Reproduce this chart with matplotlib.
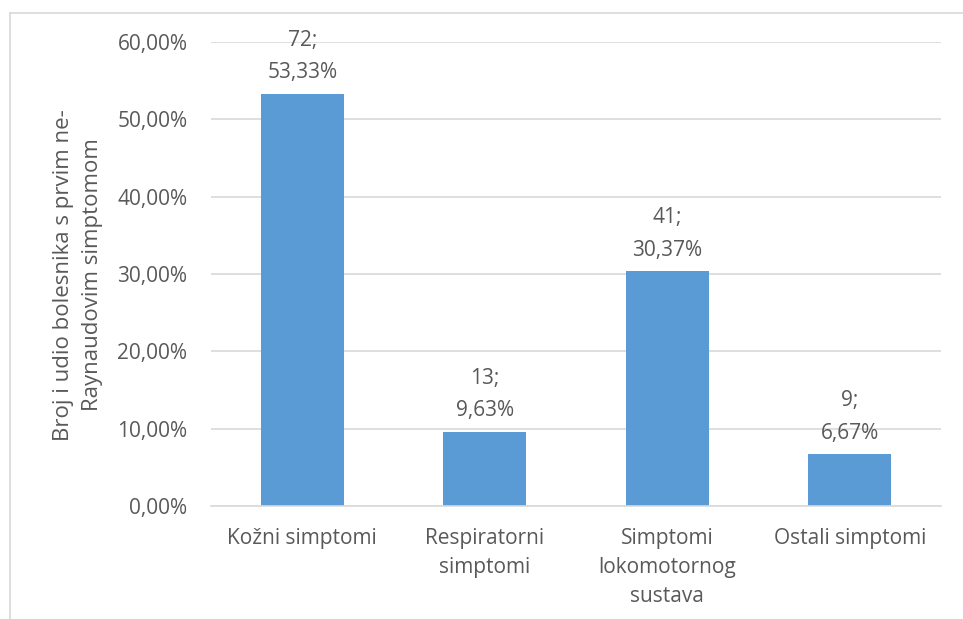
import matplotlib.pyplot as plt
from matplotlib.lines import Line2D
from matplotlib.ticker import FuncFormatter

# data
categories = ["Kožni simptomi", "Respiratorni\nsimptomi",
              "Simptomi\nlokomotornog\nsustava", "Ostali simptomi"]
counts = [72, 13, 41, 9]
shares = [53.33, 9.63, 30.37, 6.67]

txt = "#595959"
plt.rcParams['font.family'] = ['Open Sans', 'DejaVu Sans']

fig = plt.figure(figsize=(9.63, 6.19), dpi=100)
ax = fig.add_axes([211 / 963, 1 - 506 / 619, 730 / 963, 464 / 619])

x = range(len(categories))
bars = ax.bar(x, shares, width=0.455, color="#5B9BD5", zorder=3)

for b, n, s in zip(bars, counts, shares):
    lab = f"{n};\n{s:.2f}%".replace(".", ",")
    ax.annotate(lab, (b.get_x() + b.get_width() / 2, b.get_height()),
                xytext=(0, 7.5), textcoords="offset points",
                ha="center", va="bottom", fontsize=15, color=txt,
                linespacing=1.72)

ax.set_xlim(-0.5, len(categories) - 0.5)
ax.set_ylim(0, 60)
ax.set_yticks(range(0, 61, 10))
ax.yaxis.set_major_formatter(FuncFormatter(lambda v, p: f"{v:.2f}%".replace(".", ",")))
ax.set_xticks(list(x))
ax.set_xticklabels(categories, linespacing=1.52)
ax.tick_params(axis="both", length=0, labelsize=15, colors=txt)
ax.tick_params(axis="y", pad=17)
ax.tick_params(axis="x", pad=15.5)
ax.grid(axis="y", color="#D9D9D9", linewidth=1.2, zorder=0)
for sp in ["top", "right", "left"]:
    ax.spines[sp].set_visible(False)
ax.spines["bottom"].set_color("#D9D9D9")
ax.spines["bottom"].set_linewidth(1.2)
ax.spines["bottom"].set_zorder(4)

fig.text(78 / 963, 1 - 275 / 619,
         "Broj i udio bolesnika s prvim ne-\nRaynaudovim simptomom",
         rotation=90, ha="center", va="center", fontsize=16, color=txt,
         linespacing=1.45)

# chart border (only top and left edges are visible in the crop)
fig.add_artist(Line2D([10 / 963, 1], [1 - 13 / 619] * 2, color="#D9D9D9", lw=1.2))
fig.add_artist(Line2D([10 / 963] * 2, [0, 1 - 13 / 619], color="#D9D9D9", lw=1.2))

fig.savefig("out.png", dpi=100)
